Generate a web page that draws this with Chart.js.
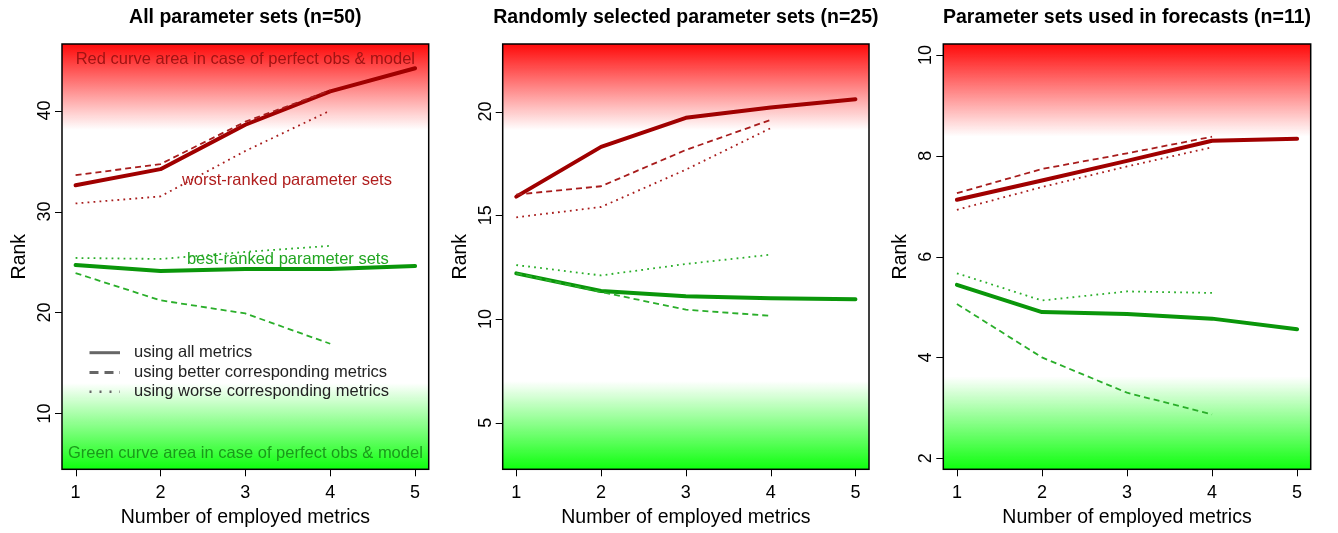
<!DOCTYPE html>
<html>
<head>
<meta charset="utf-8">
<script src="https://cdn.jsdelivr.net/npm/chart.js@4/dist/chart.umd.min.js"></script>
<style>
html,body{margin:0;padding:0;background:#fff;width:1338px;height:533px;overflow:hidden}
.p{position:absolute;top:0}
</style>
</head>
<body>
<div class="p" style="left:0px"><canvas id="c1" width="440" height="533"></canvas></div>
<div class="p" style="left:440px"><canvas id="c2" width="440" height="533"></canvas></div>
<div class="p" style="left:880px"><canvas id="c3" width="458" height="533"></canvas></div>
<script>
// ---------- data ----------
const xValues = [1, 2, 3, 4, 5];
const xTicks = [1, 2, 3, 4, 5];

const titles = [
  "All parameter sets (n=50)",
  "Randomly selected parameter sets (n=25)",
  "Parameter sets used in forecasts (n=11)"
];

// Panel 1
const p1RedAll      = [32.6, 34.2, 38.6, 41.9, 44.2];
const p1RedBetter   = [33.6, 34.7, 38.9, 42.0];
const p1RedWorse    = [30.8, 31.5, 36.0, 40.0];
const p1GreenAll    = [24.7, 24.1, 24.3, 24.3, 24.6];
const p1GreenBetter = [23.9, 21.2, 19.9, 16.9];
const p1GreenWorse  = [25.4, 25.3, 26.0, 26.6];
const p1YTicks = [10, 20, 30, 40];
const p1YRange = [4.46, 46.6];
const p1RedFrom = 38.1, p1GreenTo = 13.0;

// Panel 2
const p2RedAll      = [15.9, 18.3, 19.7, 20.2, 20.6];
const p2RedBetter   = [16.0, 16.4, 18.15, 19.6];
const p2RedWorse    = [14.9, 15.4, 17.2, 19.2];
const p2GreenAll    = [12.2, 11.35, 11.1, 11.0, 10.95];
const p2GreenBetter = [12.2, 11.3, 10.45, 10.15];
const p2GreenWorse  = [12.6, 12.1, 12.65, 13.1];
const p2YTicks = [5, 10, 15, 20];
const p2YRange = [2.75, 23.26];
const p2RedFrom = 19.1, p2GreenTo = 7.0;

// Panel 3
const p3RedAll      = [7.13, 7.51, 7.90, 8.30, 8.34];
const p3RedBetter   = [7.26, 7.74, 8.05, 8.38];
const p3RedWorse    = [6.93, 7.38, 7.79, 8.17];
const p3GreenAll    = [5.44, 4.90, 4.86, 4.77, 4.56];
const p3GreenBetter = [5.06, 4.00, 3.30, 2.87];
const p3GreenWorse  = [5.67, 5.13, 5.31, 5.28];
const p3YTicks = [2, 4, 6, 8, 10];
const p3YRange = [1.78, 10.22];
const p3RedFrom = 8.38, p3GreenTo = 3.62;

const xRange = [0.84, 5.16];

const legendLabels = ["using all metrics", "using better corresponding metrics", "using worse corresponding metrics"];

// ---------- styling ----------
const FONT = '"Liberation Sans", Arial, Helvetica, sans-serif';
const RED_SOLID = '#a00000', RED_THIN = '#a81c1c';
const GREEN_SOLID = '#0a960a', GREEN_THIN = '#2aae2a';

function series(arr, color, kind) {
  const ds = {
    data: arr.map((v, i) => ({x: xValues[i], y: v})),
    borderColor: color,
    pointRadius: 0,
    tension: 0,
    fill: false,
    borderJoinStyle: 'round'
  };
  if (kind === 'solid') { ds.borderWidth = 4; ds.borderCapStyle = 'round'; }
  else if (kind === 'dash') { ds.borderWidth = 1.8; ds.borderDash = [6, 4]; ds.borderCapStyle = 'butt'; }
  else { ds.borderWidth = 1.8; ds.borderDash = [1.8, 4.2]; ds.borderCapStyle = 'butt'; }
  return ds;
}

function txt(ctx, s, x, y, o) {
  ctx.save();
  ctx.font = (o.weight || 'normal') + ' ' + o.size + 'px ' + FONT;
  ctx.fillStyle = o.color || '#000';
  ctx.textAlign = o.align || 'center';
  ctx.textBaseline = o.baseline || 'alphabetic';
  ctx.translate(x, y);
  if (o.rotate) ctx.rotate(o.rotate);
  ctx.fillText(s, 0, 0);
  ctx.restore();
}

function panelPlugin(cfg) {
  return {
    id: 'panel' + cfg.idx,
    beforeDatasetsDraw(chart) {
      const {ctx, chartArea: a, scales: {y}} = chart;
      ctx.save();
      ctx.beginPath(); ctx.rect(a.left, a.top, a.right - a.left, a.bottom - a.top); ctx.clip();
      const yr = y.getPixelForValue(cfg.redFrom);
      let g = ctx.createLinearGradient(0, a.top, 0, yr);
      g.addColorStop(0, 'rgba(255,10,10,1)');
      g.addColorStop(1, 'rgba(255,10,10,0)');
      ctx.fillStyle = g; ctx.fillRect(a.left, a.top, a.right - a.left, yr - a.top);
      const yg = y.getPixelForValue(cfg.greenTo);
      g = ctx.createLinearGradient(0, yg, 0, a.bottom);
      g.addColorStop(0, 'rgba(15,255,15,0)');
      g.addColorStop(1, 'rgba(15,255,15,1)');
      ctx.fillStyle = g; ctx.fillRect(a.left, yg, a.right - a.left, a.bottom - yg);
      ctx.restore();
    },
    afterDraw(chart) {
      const {ctx, chartArea: a, scales: {x, y}} = chart;
      // box
      ctx.save();
      ctx.strokeStyle = '#000'; ctx.lineWidth = 1.5;
      ctx.strokeRect(a.left, a.top, a.right - a.left, a.bottom - a.top);
      // ticks
      ctx.lineWidth = 1;
      ctx.beginPath();
      cfg.yTicks.forEach(v => { const p = Math.round(y.getPixelForValue(v)) + 0.5; ctx.moveTo(a.left - 7, p); ctx.lineTo(a.left, p); });
      xTicks.forEach(v => { const p = Math.round(x.getPixelForValue(v)) + 0.5; ctx.moveTo(p, a.bottom); ctx.lineTo(p, a.bottom + 7); });
      ctx.stroke();
      ctx.restore();
      cfg.yTicks.forEach(v => txt(ctx, String(v), a.left - 12, y.getPixelForValue(v), {size: 18, rotate: -Math.PI / 2, baseline: 'alphabetic'}));
      xTicks.forEach(v => txt(ctx, String(v), x.getPixelForValue(v), a.bottom + 29, {size: 18}));
      // axis titles
      txt(ctx, 'Number of employed metrics', (a.left + a.right) / 2, 522.5, {size: 19.5});
      txt(ctx, 'Rank', a.left - 37, (a.top + a.bottom) / 2, {size: 19.5, rotate: -Math.PI / 2});
      // title
      txt(ctx, cfg.title, (a.left + a.right) / 2, 22.7, {size: 19.5, weight: 'bold'});
      // annotations
      (cfg.notes || []).forEach(n => txt(ctx, n.text, x.getPixelForValue(n.x), y.getPixelForValue(n.y), {size: 16.5, color: n.color, baseline: 'middle'}));
      // legend
      if (cfg.legend) {
        const rows = [352.7, 372.5, 391.7];
        ctx.save();
        ctx.strokeStyle = '#666';
        const styles = [{w: 3, d: []}, {w: 3, d: [9, 6]}, {w: 2.5, d: [2, 8]}];
        rows.forEach((ry, i) => {
          ctx.lineWidth = styles[i].w; ctx.setLineDash(styles[i].d);
          ctx.beginPath(); ctx.moveTo(a.left + 27.5, ry); ctx.lineTo(a.left + 58, ry); ctx.stroke();
          txt(ctx, legendLabels[i], a.left + 72, ry, {size: 16.5, color: '#222', align: 'left', baseline: 'middle'});
        });
        ctx.restore();
      }
    }
  };
}

function makeChart(id, idx, dsArr, yTicks, yRange, redFrom, greenTo, pad, notes, legend) {
  const cfg = {idx, title: titles[idx], yTicks, redFrom, greenTo, notes, legend};
  return new Chart(document.getElementById(id), {
    type: 'line',
    data: {datasets: dsArr},
    options: {
      responsive: false,
      animation: false,
      layout: {padding: pad},
      plugins: {legend: {display: false}, tooltip: {enabled: false}, title: {display: false}},
      scales: {
        x: {type: 'linear', display: false, min: xRange[0], max: xRange[1]},
        y: {type: 'linear', display: false, min: yRange[0], max: yRange[1]}
      }
    },
    plugins: [panelPlugin(cfg)]
  });
}

function dsets(ra, rb, rw, ga, gb, gw) {
  return [
    series(rw, RED_THIN, 'dot'), series(rb, RED_THIN, 'dash'), series(ra, RED_SOLID, 'solid'),
    series(gw, GREEN_THIN, 'dot'), series(gb, GREEN_THIN, 'dash'), series(ga, GREEN_SOLID, 'solid')
  ];
}

makeChart('c1', 0, dsets(p1RedAll, p1RedBetter, p1RedWorse, p1GreenAll, p1GreenBetter, p1GreenWorse),
  p1YTicks, p1YRange, p1RedFrom, p1GreenTo, {left: 62, right: 11.3, top: 44, bottom: 63.7},
  [
    {text: 'Red curve area in case of perfect obs & model', x: 3.0, y: 45.1, color: '#a01414'},
    {text: 'worst-ranked parameter sets', x: 3.49, y: 33.1, color: '#b01e1e'},
    {text: 'best-ranked parameter sets', x: 3.5, y: 25.3, color: '#22a622'},
    {text: 'Green curve area in case of perfect obs & model', x: 3.0, y: 6.04, color: '#1a9a1a'}
  ], true);

makeChart('c2', 1, dsets(p2RedAll, p2RedBetter, p2RedWorse, p2GreenAll, p2GreenBetter, p2GreenWorse),
  p2YTicks, p2YRange, p2RedFrom, p2GreenTo, {left: 62.7, right: 11, top: 44, bottom: 63.7}, [], false);

makeChart('c3', 2, dsets(p3RedAll, p3RedBetter, p3RedWorse, p3GreenAll, p3GreenBetter, p3GreenWorse),
  p3YTicks, p3YRange, p3RedFrom, p3GreenTo, {left: 63.3, right: 27.3, top: 44, bottom: 63.7}, [], false);
</script>
</body>
</html>
